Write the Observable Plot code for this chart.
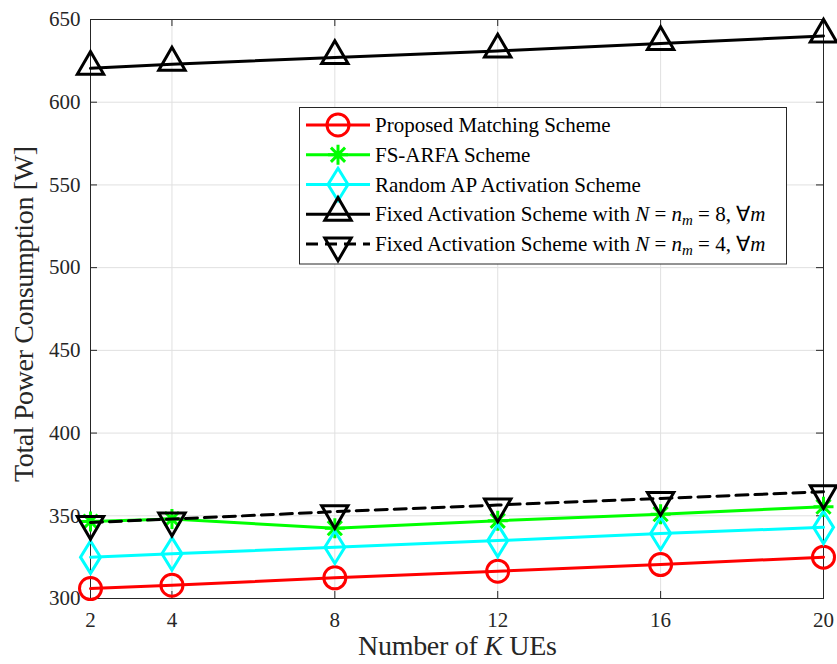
<!DOCTYPE html>
<html><head><meta charset="utf-8">
<script src="https://cdn.jsdelivr.net/npm/d3@7"></script>
<script src="https://cdn.jsdelivr.net/npm/@observablehq/plot@0.6"></script>
<style>
body{margin:0;background:#fff;}
#wrap{width:837px;height:664px;}
</style></head><body><div id="wrap"></div>
<script>
// ---- data ----
const K = [2, 4, 8, 12, 16, 20];
const proposed = [306, 308, 312.5, 316.5, 320.5, 325];
const fsArfa   = [346.5, 348, 342.5, 347, 351, 355.5];
const randomAP = [325, 327, 331, 335, 339.3, 343];
const fixed8   = [620.5, 623, 627, 631, 635.5, 640];
const fixed4   = [346, 348, 352.5, 356.5, 360.5, 364.5];
const yTicks = [300, 350, 400, 450, 500, 550, 600, 650];
const xLabel = "Number of K UEs";
const yLabel = "Total Power Consumption [W]";
const names = ["Proposed Matching Scheme", "FS-ARFA Scheme", "Random AP Activation Scheme",
  "Fixed Activation Scheme with N = n_m = 8, ∀m", "Fixed Activation Scheme with N = n_m = 4, ∀m"];

// ---- symbols ----
const rad = s => Math.sqrt(s / Math.PI);
const circleSym = {draw(c, s){const r = rad(s); c.moveTo(r, 0); c.arc(0, 0, r, 0, 2*Math.PI); c.closePath();}};
const starSym = {draw(c, s){const r = rad(s); for (const a of [0,45,90,135]) {const t=a*Math.PI/180, x=r*Math.cos(t), y=r*Math.sin(t); c.moveTo(x,y); c.lineTo(-x,-y);}}};
const diamondSym = {draw(c, s){const r = rad(s); c.moveTo(0,-1.62*r); c.lineTo(r,0); c.lineTo(0,1.62*r); c.lineTo(-r,0); c.closePath();}};
const triUp = {draw(c, s){const r = rad(s); c.moveTo(0,-1.4*r); c.lineTo(1.1*r,0.5*r); c.lineTo(-1.1*r,0.5*r); c.closePath();}};
const triDown = {draw(c, s){const r = rad(s); c.moveTo(0,1.4*r); c.lineTo(1.1*r,-0.5*r); c.lineTo(-1.1*r,-0.5*r); c.closePath();}};

const series = [
  {name: names[0], values: proposed, color: "#ff0000", symbol: circleSym, r: 11, dash: null},
  {name: names[1], values: fsArfa,   color: "#00ff00", symbol: starSym,   r: 10, dash: null},
  {name: names[2], values: randomAP, color: "#00ffff", symbol: diamondSym, r: 10, dash: null},
  {name: names[3], values: fixed8,   color: "#000000", symbol: triUp,     r: 12, dash: null},
  {name: names[4], values: fixed4,   color: "#000000", symbol: triDown,   r: 12, dash: "12,7"}
];

const W = 837, H = 664, mL = 90, mR = 14, mT = 19, mB = 66;
const pw = W - mL - mR, ph = H - mT - mB, tk = 7;
const axisColor = "#262626";
const font = "'Liberation Serif', 'Times New Roman', serif";

const seriesMarks = series.flatMap(s => {
  const data = K.map((k, i) => ({k, v: s.values[i]}));
  return [
    Plot.line(data, {x: "k", y: "v", stroke: s.color, strokeWidth: 3, strokeDasharray: s.dash}),
    Plot.dot(data, {x: "k", y: "v", symbol: s.symbol, r: s.r, stroke: s.color, fill: "none", strokeWidth: 3, strokeLinejoin: "miter"})
  ];
});

const plot = Plot.plot({
  width: W, height: H,
  marginLeft: mL, marginRight: mR, marginTop: mT, marginBottom: mB,
  style: {fontFamily: font, background: "#fff", overflow: "visible"},
  x: {domain: [2, 20], label: null},
  y: {domain: [300, 650], label: null},
  marks: [
    Plot.gridX(K, {stroke: "#e0e0e0", strokeOpacity: 1}),
    Plot.gridY(yTicks, {stroke: "#e0e0e0", strokeOpacity: 1}),
    Plot.tickY(yTicks, {y: d => d, insetRight: pw - tk, stroke: axisColor}),
    Plot.tickY(yTicks, {y: d => d, insetLeft: pw - tk, stroke: axisColor}),
    Plot.tickX(K, {x: d => d, insetBottom: ph - tk, stroke: axisColor}),
    Plot.tickX(K, {x: d => d, insetTop: ph - tk, stroke: axisColor}),
    Plot.frame({stroke: axisColor}),
    Plot.axisX(K, {tickSize: 0, tickPadding: 14, fontSize: 21, label: null, fill: axisColor}),
    Plot.axisY(yTicks, {tickSize: 0, tickPadding: 10, fontSize: 21, label: null, fill: axisColor}),
    ...seriesMarks
  ]
});
document.getElementById("wrap").appendChild(plot);

// ---- axis labels & legend ----
const svg = d3.select(plot);
const xl = svg.append("text").attr("x", mL + pw/2 + 1).attr("y", 655).attr("text-anchor", "middle")
  .attr("font-size", 28).attr("font-family", font).attr("fill", axisColor)
  .attr("textLength", 199).attr("lengthAdjust", "spacing");
xl.append("tspan").text("Number of ");
xl.append("tspan").attr("font-style", "italic").text("K");
xl.append("tspan").text(" UEs");

svg.append("text").attr("transform", `translate(33,314) rotate(-90)`).attr("text-anchor", "middle")
  .attr("font-size", 28).attr("font-family", font).attr("fill", axisColor)
  .attr("textLength", 336).attr("lengthAdjust", "spacing").text(yLabel);

const lg = svg.append("g").attr("text-anchor", "start");
lg.append("rect").attr("x", 299.5).attr("y", 107.5).attr("width", 487).attr("height", 156.5)
  .attr("fill", "#fff").attr("stroke", axisColor).attr("stroke-width", 1);
series.forEach((s, i) => {
  const cy = 125 + i * 29.75;
  const g = lg.append("g");
  g.append("line").attr("x1", 306).attr("x2", 370).attr("y1", cy).attr("y2", cy)
    .attr("stroke", s.color).attr("stroke-width", 3).attr("stroke-dasharray", s.dash);
  g.append("path").attr("transform", `translate(338,${cy})`)
    .attr("d", d3.symbol().type(s.symbol).size(Math.PI * s.r * s.r)())
    .attr("fill", "none").attr("stroke", s.color).attr("stroke-width", 3).attr("stroke-linejoin", "miter");
  const t = g.append("text").attr("x", 375).attr("y", cy + 7).attr("font-size", 21)
    .attr("font-family", font).attr("fill", "#000").attr("text-anchor", "start");
  if (i < 3) { t.text(s.name); }
  else {
    const nVal = i === 3 ? "8" : "4";
    t.append("tspan").text("Fixed Activation Scheme with ");
    t.append("tspan").attr("font-style", "italic").text("N");
    t.append("tspan").text(" = ");
    t.append("tspan").attr("font-style", "italic").text("n");
    t.append("tspan").attr("font-style", "italic").attr("font-size", 15).attr("dy", 4).text("m");
    t.append("tspan").attr("dy", -4).text(" = " + nVal + ", ∀");
    t.append("tspan").attr("font-style", "italic").text("m");
  }
});
</script></body></html>
